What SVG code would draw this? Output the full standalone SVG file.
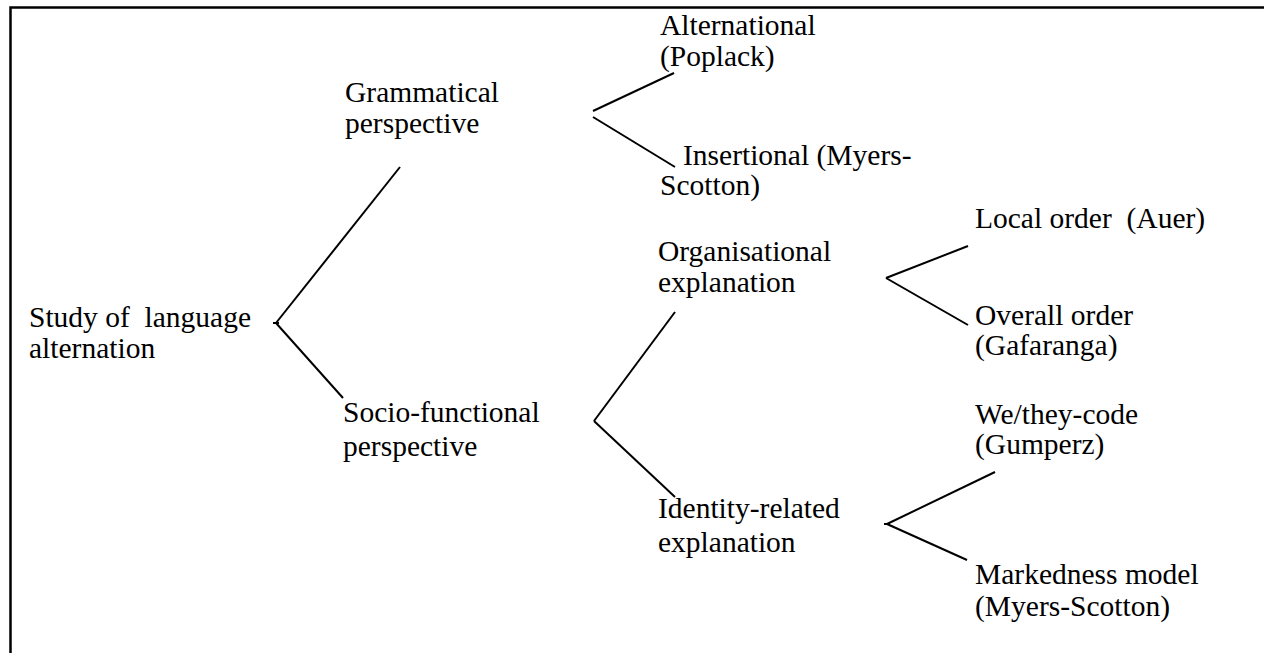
<svg xmlns="http://www.w3.org/2000/svg" width="1264" height="653" viewBox="0 0 1264 653">
<style>
text{font-family:"Liberation Serif","Times New Roman",serif;font-size:29.5px;fill:#000;white-space:pre}
.c line{stroke:#000;stroke-width:2;stroke-linecap:butt}
.b{stroke:#000;stroke-width:2.5;fill:none}
</style>
<rect width="1264" height="653" fill="#fff"/>
<path class="b" d="M10.5 653 V7.5 H1264"/>
<g class="c" id="connectors">
<line x1="276" y1="323" x2="400" y2="167"/>
<line x1="276" y1="323" x2="343" y2="398"/>
<line x1="273" y1="323" x2="279" y2="323"/>
<line x1="593" y1="111" x2="674" y2="73"/>
<line x1="593" y1="117" x2="675" y2="167"/>
<line x1="594" y1="421" x2="675" y2="312"/>
<line x1="594" y1="421" x2="675" y2="497"/>
<line x1="886" y1="278" x2="968" y2="246"/>
<line x1="886" y1="278" x2="968" y2="325"/>
<line x1="887" y1="524" x2="995" y2="472"/>
<line x1="887" y1="524" x2="967" y2="560"/>
<line x1="884" y1="524" x2="890" y2="524"/>
</g>
<g id="root"><text x="29" y="327" xml:space="preserve">Study of  language</text><text x="29" y="358">alternation</text></g>
<g id="grammatical"><text x="345" y="102">Grammatical</text><text x="345" y="133">perspective</text></g>
<g id="socio"><text x="343" y="422">Socio-functional</text><text x="343" y="456">perspective</text></g>
<g id="alternational"><text x="660" y="35">Alternational</text><text x="660" y="66">(Poplack)</text></g>
<g id="insertional"><text x="683" y="165">Insertional (Myers-</text><text x="660" y="195">Scotton)</text></g>
<g id="organisational"><text x="658" y="261">Organisational</text><text x="658" y="292">explanation</text></g>
<g id="identity"><text x="658" y="518">Identity-related</text><text x="658" y="552">explanation</text></g>
<g id="local"><text x="975" y="228" xml:space="preserve">Local order  (Auer)</text></g>
<g id="overall"><text x="975" y="325">Overall order</text><text x="975" y="355">(Gafaranga)</text></g>
<g id="wethey"><text x="975" y="424">We/they-code</text><text x="975" y="454">(Gumperz)</text></g>
<g id="markedness"><text x="975" y="584">Markedness model</text><text x="975" y="616">(Myers-Scotton)</text></g>
</svg>
